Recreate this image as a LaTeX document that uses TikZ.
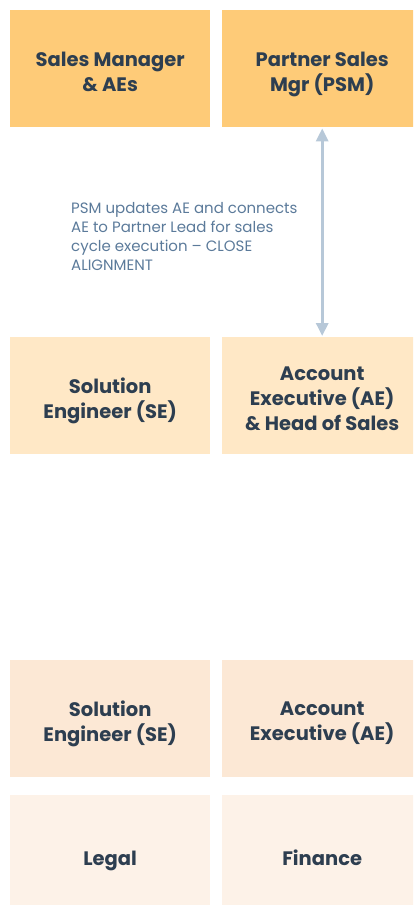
\documentclass[tikz,border=0pt]{standalone}
\usepackage{fontspec}
\setmainfont{Poppins}
\usetikzlibrary{arrows.meta}
\definecolor{ink}{HTML}{2D3E50}
\definecolor{note}{HTML}{5B7A9A}
\definecolor{link}{HTML}{B7C8D8}
\definecolor{tierA}{HTML}{FECB78}
\definecolor{tierB}{HTML}{FFE8C6}
\definecolor{tierC}{HTML}{FCE8D5}
\definecolor{tierD}{HTML}{FDF2E8}
\tikzset{
  role/.style={rectangle, inner sep=0pt, minimum width=200pt, minimum height=117pt,
    text=ink, align=center, font=\fontsize{19.5}{25}\selectfont\bfseries, anchor=north west},
  title/.style={role, anchor=center, minimum width=0pt, minimum height=0pt,
    shift={(0,6.5)}, execute at begin node=\strut, execute at end node=\strut},
}
\begin{document}
\begin{tikzpicture}[x=1pt,y=-1pt]
  \useasboundingbox (0,0) rectangle (413,905);
  \clip (0,0) rectangle (413,905);
  % top tier
  \node[role, fill=tierA] (sm)  at (10,10)  {};
  \node[role, fill=tierA] (psm) at (222,10) {};
  % second tier
  \node[role, fill=tierB] (se1) at (10,337)  {};
  \node[role, fill=tierB] (ae1) at (222,337) {};
  % third tier
  \node[role, fill=tierC] (se2) at (10,660)  {};
  \node[role, fill=tierC] (ae2) at (222,660) {};
  % support
  \node[role, fill=tierD] (legal) at (10,795)  {};
  \node[role, fill=tierD] (fin)   at (222,795) {};
  % box titles
  \node[title] at (sm)    {Sales Manager\\\& AEs};
  \node[title] at (psm)   {Partner Sales\\Mgr (PSM)};
  \node[title] at (se1)   {Solution\\Engineer (SE)};
  \node[title] at (ae1)   {Account\\Executive (AE)\\\& Head of Sales};
  \node[title] at (se2)   {Solution\\Engineer (SE)};
  \node[title] at (ae2)   {Account\\Executive (AE)};
  \node[title] at (legal) {Legal};
  \node[title] at (fin)   {Finance};
  % alignment link
  \draw[link, line width=3pt, {Triangle[length=13pt,width=12pt]}-{Triangle[length=13pt,width=12pt]}]
    ([yshift=-1pt]psm.south) -- ([yshift=1pt]ae1.north);
  \node[anchor=north west, text=note, align=left, inner sep=0pt,
        font=\fontsize{15}{19}\selectfont] (memo) at (71,202)
    {PSM updates AE and connects\\AE to Partner Lead for sales\\cycle execution -- CLOSE\\ALIGNMENT};
\end{tikzpicture}
\end{document}
